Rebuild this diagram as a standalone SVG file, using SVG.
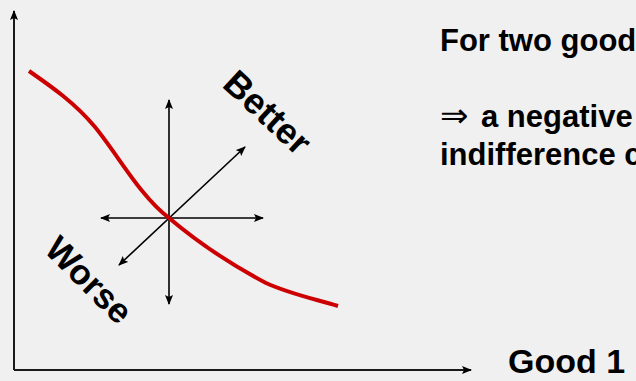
<svg xmlns="http://www.w3.org/2000/svg" width="636" height="381" viewBox="0 0 636 381">
<defs>
<style>
.ax{stroke:#1a1a1a;stroke-width:2;fill:none}
.ar{stroke:#000;stroke-width:1.6;fill:none}
.lbl{font-family:"Liberation Sans",Arial,sans-serif;font-weight:bold;fill:#000}
</style>
<marker id="ah" viewBox="0 0 10 8" refX="9" refY="4" markerWidth="10" markerHeight="8" markerUnits="userSpaceOnUse" orient="auto-start-reverse">
<path d="M0,0 L10,4 L0,8 L2,4 Z" fill="#000"/>
</marker>
</defs>
<rect width="636" height="381" fill="#f0f0f0"/>
<g id="axes">
<line class="ax" x1="14" y1="370" x2="14" y2="11" marker-end="url(#ah)"/>
<line class="ax" x1="14" y1="370" x2="471" y2="370" marker-end="url(#ah)"/>
</g>
<g id="connectors">
<line class="ar" x1="169" y1="100" x2="169" y2="304" marker-start="url(#ah)" marker-end="url(#ah)"/>
<line class="ar" x1="101" y1="218" x2="263" y2="218" marker-start="url(#ah)" marker-end="url(#ah)"/>
<line class="ar" x1="119" y1="265" x2="245" y2="147" marker-start="url(#ah)" marker-end="url(#ah)"/>
</g>
<g id="curve">
<path d="M29,71 C52,87 75,103 95,127 C118,155 140,196 169,218 C195,240 230,264 266,283 C290,294 315,299 338,306" stroke="#cc0000" stroke-width="4" fill="none"/>
</g>
<g id="better">
<text class="lbl" font-size="36" text-anchor="middle" transform="translate(268,112) rotate(43)" y="13">Better</text>
</g>
<g id="worse">
<text class="lbl" font-size="35" text-anchor="middle" transform="translate(89,280) rotate(45)" y="12">Worse</text>
</g>
<g id="notes">
<text class="lbl" font-size="31" x="440" y="51">For two goods</text>
<text class="lbl" font-size="31" y="127"><tspan x="440" font-family="DejaVu Sans" font-weight="normal" font-size="34">⇒</tspan><tspan x="481">a negative</tspan></text>
<text class="lbl" font-size="31" x="440" y="165">indifference curve</text>
</g>
<g id="good1">
<text class="lbl" font-size="34" x="508" y="373">Good 1</text>
</g>
</svg>
